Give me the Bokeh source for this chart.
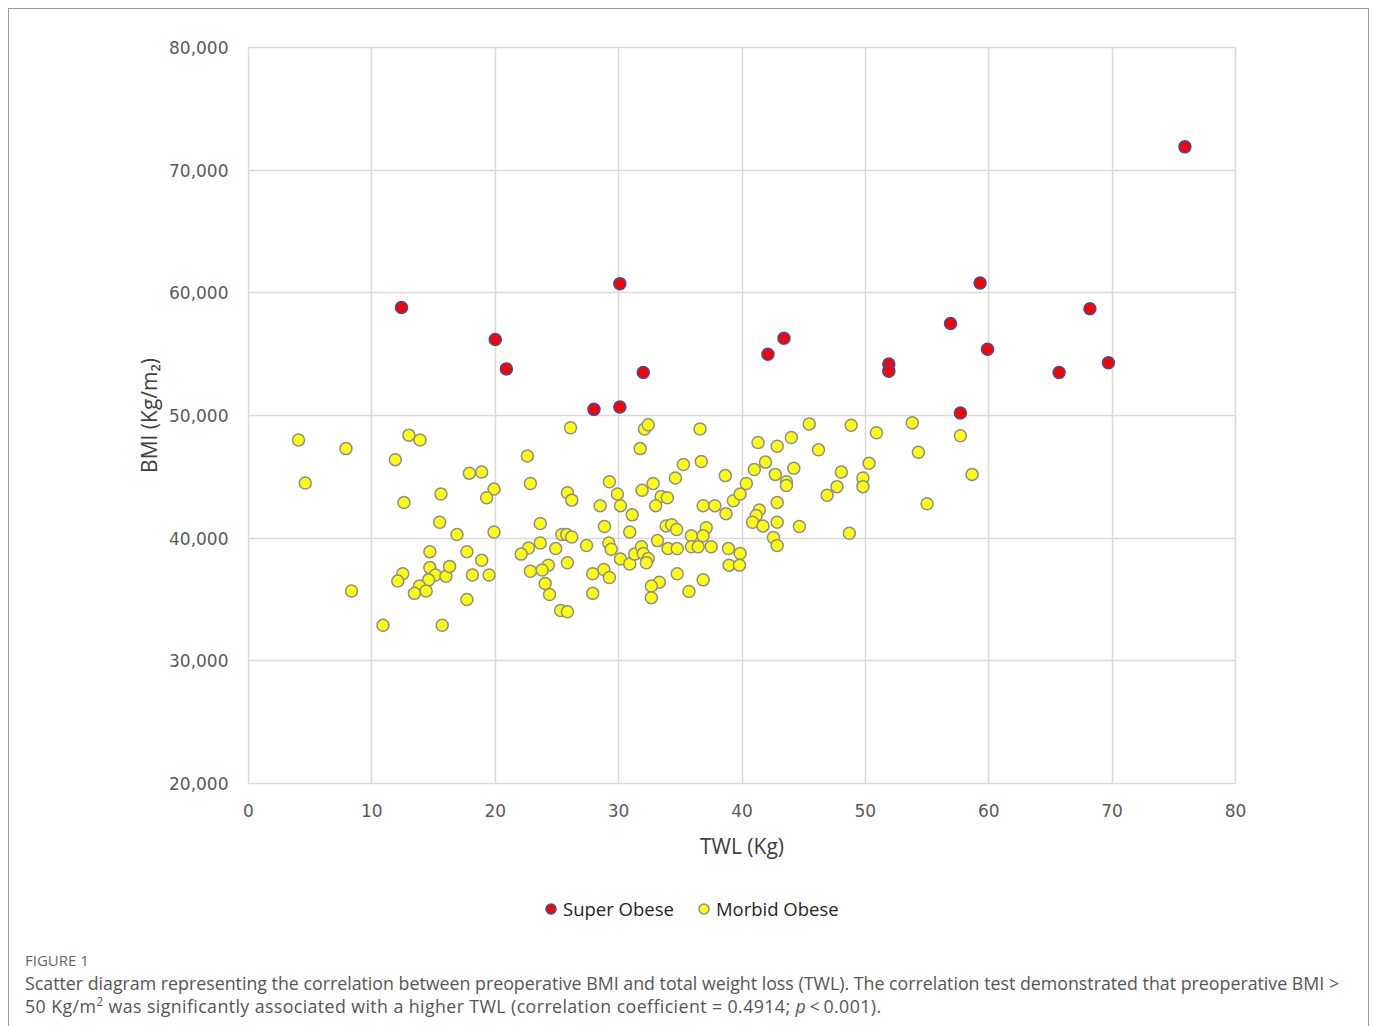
from bokeh.plotting import figure
from bokeh.models import Range1d, FixedTicker, Legend, LegendItem, Div
from bokeh.layouts import column
from bokeh.embed import file_html
from bokeh.resources import INLINE

# ---- data ----
super_twl = [12.4, 20.0, 20.9, 30.1, 28.0, 30.1, 32.0, 42.1, 43.4, 51.9, 51.9,
             56.9, 59.3, 59.9, 57.7, 65.7, 68.2, 69.7, 75.9]
super_bmi = [58.8, 56.2, 53.8, 60.75, 50.5, 50.7, 53.5, 55.0, 56.3, 54.2, 53.6,
             57.5, 60.8, 55.4, 50.2, 53.5, 58.7, 54.3, 71.9]

morbid_twl = [4.05, 4.6, 7.9, 8.35, 10.9, 13.0, 13.9, 11.9, 12.6, 15.6, 15.5, 14.7, 14.7,
              12.5, 12.1, 15.15, 16.0, 14.6, 13.85, 13.45, 14.4, 15.7, 16.3, 17.9, 18.9,
              19.9, 19.3, 16.9, 19.9, 17.7, 18.9, 18.15, 19.5, 17.7, 26.1, 22.6, 22.85,
              25.85, 26.2, 23.65, 25.4, 25.8, 26.2, 23.65, 22.7, 22.1, 24.9, 24.3, 23.8,
              22.85, 25.85, 24.05, 24.4, 25.3, 25.85, 27.4, 29.25, 29.9, 30.15, 28.5, 31.1,
              28.85, 30.9, 29.2, 29.4, 30.15, 30.9, 31.3, 31.85, 27.9, 28.8, 29.25, 27.9,
              31.75, 32.1, 32.4, 31.9, 36.6, 35.25, 36.7, 34.6, 32.8, 33.45, 33.95, 33.0,
              38.65, 36.85, 37.8, 38.7, 39.3, 39.85, 40.35, 41.0, 41.9, 41.3, 42.85, 44.0,
              45.45, 46.2, 42.7, 44.2, 43.6, 43.6, 46.9, 42.85, 41.4, 41.15, 40.85, 41.7,
              42.85, 44.65, 42.55, 42.85, 33.85, 34.3, 34.7, 33.15, 37.1, 35.9, 36.85, 32.0,
              32.4, 32.25, 34.0, 34.75, 35.9, 36.45, 37.5, 38.9, 39.85, 38.95, 39.8, 34.75,
              33.3, 32.65, 32.65, 35.7, 36.85, 48.85, 50.9, 53.8, 57.7, 54.3, 50.3, 48.05,
              49.8, 49.8, 47.7, 58.65, 55.0, 48.7]
morbid_bmi = [48.0, 44.5, 47.3, 35.7, 32.9, 48.4, 48.0, 46.4, 42.9, 43.6, 41.3, 38.9, 37.6,
              37.1, 36.5, 37.0, 36.9, 36.6, 36.1, 35.5, 35.7, 32.9, 37.7, 45.3, 45.4,
              44.0, 43.3, 40.3, 40.5, 38.9, 38.2, 37.0, 37.0, 35.0, 49.0, 46.7, 44.45,
              43.7, 43.1, 41.2, 40.3, 40.3, 40.1, 39.6, 39.2, 38.7, 39.15, 37.8, 37.4,
              37.3, 38.0, 36.3, 35.4, 34.1, 34.0, 39.4, 44.6, 43.6, 42.65, 42.65, 41.9,
              40.95, 40.5, 39.6, 39.1, 38.3, 37.9, 38.7, 39.3, 37.1, 37.45, 36.8, 35.5,
              47.3, 48.9, 49.25, 43.9, 48.9, 46.0, 46.25, 44.9, 44.45, 43.4, 43.3, 42.65,
              45.1, 42.65, 42.65, 42.0, 43.05, 43.6, 44.45, 45.6, 46.2, 47.8, 47.5, 48.2,
              49.3, 47.2, 45.2, 45.7, 44.6, 44.3, 43.5, 42.9, 42.3, 41.85, 41.3, 41.0,
              41.3, 40.95, 40.05, 39.4, 41.0, 41.1, 40.7, 39.8, 40.85, 40.2, 40.2, 38.75,
              38.35, 38.0, 39.15, 39.15, 39.3, 39.3, 39.3, 39.15, 38.75, 37.8, 37.8, 37.1,
              36.4, 36.1, 35.15, 35.65, 36.6, 49.2, 48.6, 49.4, 48.35, 47.0, 46.1, 45.4,
              44.9, 44.2, 44.2, 45.2, 42.8, 40.4]

x_ticks = [0, 10, 20, 30, 40, 50, 60, 70, 80]
y_ticks = [20, 30, 40, 50, 60, 70, 80]
y_tick_labels = ["20,000", "30,000", "40,000", "50,000", "60,000", "70,000", "80,000"]

series_names = ["Super Obese", "Morbid Obese"]
x_title = "TWL (Kg)"
y_title = "BMI (Kg/m\u2082)"
fig_label = "FIGURE 1"
caption_1 = ("Scatter diagram representing the correlation between preoperative BMI and total "
             "weight loss (TWL). The correlation test demonstrated that preoperative BMI &gt;")
caption_2 = ("50 Kg/m<sup style='font-size:12px;line-height:0'>2</sup> was significantly associated "
             "with a higher TWL (correlation coefficient = 0.4914; <i>p</i>&thinsp;&lt;&thinsp;0.001).")

red_style = dict(fill_color="#ff0000", line_color="#3b4fa0", line_width=1.5)
yellow_style = dict(fill_color="#ffff00", line_color="#8a8aa0", line_width=1.5)

# ---- main chart ----
p = figure(width=1359, height=859, output_backend="svg", toolbar_location=None,
           x_range=Range1d(0, 80), y_range=Range1d(20, 80),
           min_border_left=239, min_border_right=133, min_border_top=38, min_border_bottom=85)
p.background_fill_color = "white"
p.border_fill_color = "white"
p.outline_line_color = "#d9d9d9"
p.outline_line_width = 1.5

p.xaxis.ticker = FixedTicker(ticks=x_ticks)
p.yaxis.ticker = FixedTicker(ticks=y_ticks)
p.yaxis.major_label_overrides = {t: l for t, l in zip(y_ticks, y_tick_labels)}
for ax in (p.xaxis, p.yaxis):
    ax.axis_line_color = None
    ax.major_tick_line_color = None
    ax.minor_tick_line_color = None
    ax.major_label_text_font = "DejaVu Sans"
    ax.major_label_text_font_size = "17px"
    ax.major_label_text_color = "#595959"
    ax.axis_label_text_font = "Open Sans"
    ax.axis_label_text_font_style = "normal"
    ax.axis_label_text_color = "#404040"
p.xaxis.major_label_standoff = 14
p.yaxis.major_label_standoff = 14
p.xaxis.axis_label = x_title
p.yaxis.axis_label = y_title
p.xaxis.axis_label_text_font_size = "21px"
p.yaxis.axis_label_text_font_size = "21px"
p.xaxis.axis_label_standoff = 12
p.yaxis.axis_label_standoff = 3

p.xgrid.grid_line_color = "#d9d9d9"
p.ygrid.grid_line_color = "#d9d9d9"
p.xgrid.grid_line_width = 1.5
p.ygrid.grid_line_width = 1.5

r_mor = p.scatter(morbid_twl, morbid_bmi, size=12, **yellow_style)
r_sup = p.scatter(super_twl, super_bmi, size=12, **red_style)

# ---- legend strip: same series, plotted out of view, used only as legend keys ----
lg = figure(width=1359, height=78, output_backend="svg", toolbar_location=None,
            x_axis_type=None, y_axis_type=None, min_border=0,
            x_range=Range1d(-2, -1), y_range=Range1d(-2, -1))
lg.outline_line_color = None
lg.grid.visible = False
lg_sup = lg.scatter(super_twl, super_bmi, size=12, **red_style)
lg_mor = lg.scatter(morbid_twl, morbid_bmi, size=12, **yellow_style)
legend = Legend(items=[LegendItem(label=series_names[0], renderers=[lg_sup]),
                       LegendItem(label=series_names[1], renderers=[lg_mor])],
                orientation="horizontal", location=(290, 25),
                border_line_color=None, background_fill_alpha=0,
                label_text_font="Open Sans", label_text_font_size="18.5px",
                label_text_color="#262626",
                glyph_width=25, glyph_height=25, label_standoff=0, spacing=17,
                padding=0, margin=0)
lg.add_layout(legend)

# ---- caption ----
caption_html = (
    "<div style=\"font-family:'Open Sans';color:#666666;font-size:15px;line-height:18px;"
    "padding-left:11px;\">" + fig_label + "</div>"
    "<div style=\"font-family:'Open Sans';color:#555555;font-size:17.8px;line-height:23px;"
    "margin-top:3px;padding-left:11px;white-space:nowrap;\">"
    + caption_1 + "<br><span style='letter-spacing:0.4px'>" + caption_2 + "</span></div>"
)
cap = Div(text=caption_html, width=1359, height=70)

layout = column(p, lg, cap, width=1361, spacing=0,
                styles={"margin-left": "8px", "margin-top": "8px",
                        "border-left": "1px solid #9a9a9a", "border-top": "1px solid #9a9a9a",
                        "border-right": "1px solid #9a9a9a"})

open("out.html", "w").write(file_html(layout, INLINE))
